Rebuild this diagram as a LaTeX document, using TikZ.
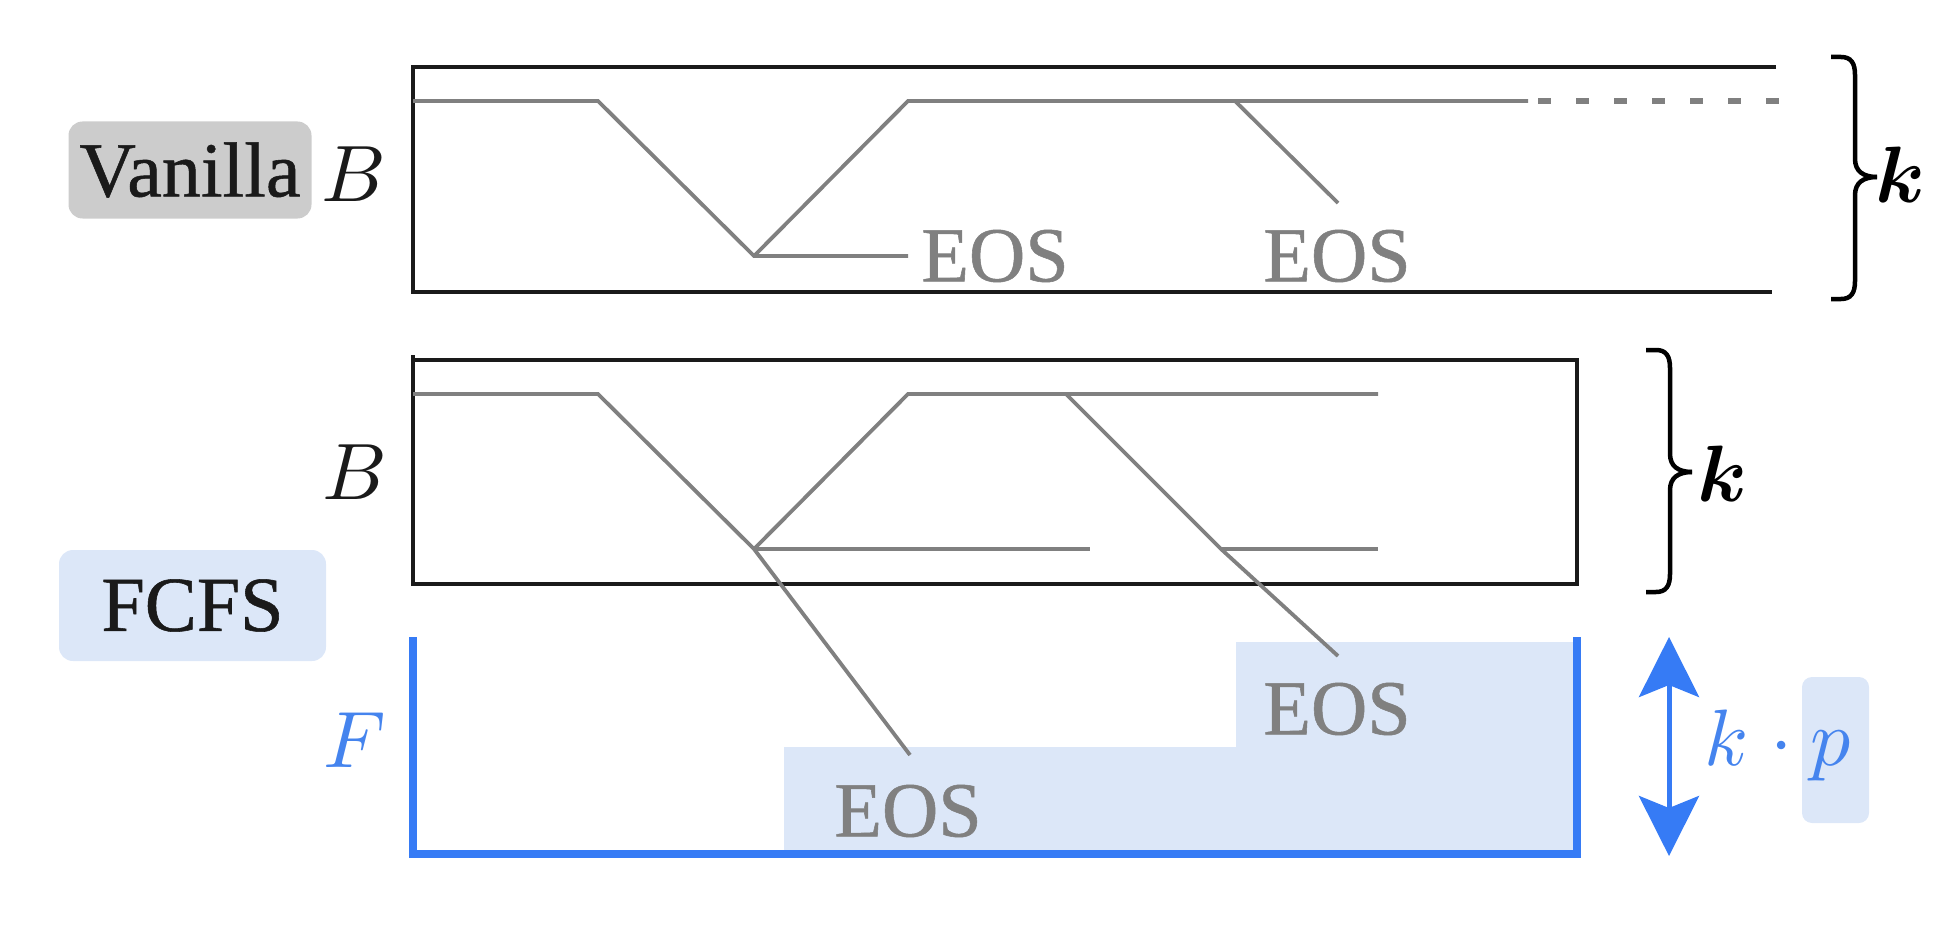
\RequirePackage{fix-cm}
\documentclass[tikz,border=0pt]{standalone}
\usepackage{fontspec}
\setmainfont{Liberation Serif}[RawFeature={embolden=0.7}]
\usetikzlibrary{arrows.meta}
\DeclareFontShape{OML}{cmm}{m}{it}{<->cmmi10}{}
\DeclareFontShape{OML}{cmm}{b}{it}{<->cmmib10}{}
\DeclareFontShape{OMS}{cmsy}{m}{n}{<->cmsy10}{}
\definecolor{lgray}{HTML}{808080}
\definecolor{dblack}{HTML}{1A1A1A}
\definecolor{mblue}{HTML}{367BF5}
\definecolor{tblue}{HTML}{4584EE}
\definecolor{fblue}{HTML}{DCE7F8}
\definecolor{vgray}{HTML}{CCCCCC}
\newcommand\KBrace[4]{% x of ends, y top, y tip, y bottom
  \draw[kbr] (#1,#2) -- (#1+10,#2) .. controls (#1+20,#2) and (#1+24,#2+6) .. (#1+24,#2+18)
    -- (#1+24,#3-18) .. controls (#1+24,#3-6) and (#1+32,#3) .. (#1+46,#3);
  \draw[kbr] (#1+46,#3) .. controls (#1+32,#3) and (#1+24,#3+6) .. (#1+24,#3+18)
    -- (#1+24,#4-18) .. controls (#1+24,#4-6) and (#1+20,#4) .. (#1+10,#4) -- (#1,#4);}
\begin{document}
\begin{tikzpicture}[x=1pt,y=-1pt,
  big/.style={font=\fontsize{78}{90}\selectfont, inner sep=0pt},
  mathlbl/.style={font=\fontsize{80}{96}\selectfont, inner sep=0pt, anchor=base},
  boldlbl/.style={font=\fontsize{80}{96}\selectfont\boldmath, inner sep=0pt, anchor=base},
  eos/.style={big, text=lgray},
  frame/.style={draw=dblack, line width=4.5pt},
  trace/.style={draw=lgray, line width=3.8pt},
  tag/.style={big, rounded corners=14pt, text=dblack},
  kbr/.style={draw=black, line width=4.5pt},
  blueu/.style={draw=mblue, line width=8.5pt},
  dbl/.style={draw=mblue, line width=5pt,
    {Stealth[length=60pt,width=60pt,inset=12pt]}-{Stealth[length=60pt,width=60pt,inset=12pt]}}
]
\useasboundingbox (0,0) rectangle (1956,936);

% ---------- labels ----------
\node[tag, fill=vgray, minimum width=243pt, minimum height=97pt] (vanilla) at (190,170) {Vanilla};
\node[tag, fill=fblue, minimum width=267pt, minimum height=111pt] (fcfs) at (192.5,605.5) {FCFS};
\node[mathlbl, text=dblack] (B1) at (354,201) {$B$};
\node[mathlbl, text=dblack] (B2) at (355,499) {$B$};
\node[mathlbl, text=tblue] (F) at (355,767) {$F$};

% ---------- top frame ----------
\coordinate (f1a) at (1776,67);
\coordinate (f1b) at (413,67);
\coordinate (f1c) at (413,292);
\coordinate (f1d) at (1772,292);
\draw[frame] (f1a) -- (f1b) -- (f1c) -- (f1d);

% top traces
\coordinate (t0) at (413,101);
\coordinate (t1) at (598,101);
\coordinate (tj) at (754,256);
\coordinate (te1) at (908,256);
\coordinate (t2) at (908,101);
\coordinate (t3) at (1235,101);
\coordinate (te2) at (1338,203);
\coordinate (t4) at (1528,101);
\coordinate (t5) at (1538,101);
\coordinate (t6) at (1781,101);
\draw[trace] (t0) -- (t1) -- (tj) -- (te1);
\draw[trace] (tj) -- (t2) -- (t4);
\draw[trace] (t3) -- (te2);
\draw[trace, line width=5.5pt, dash pattern=on 13pt off 25pt] (t5) -- (t6);
\node[eos] (eos1) at (995,256) {EOS};
\node[eos] (eos2) at (1337,256) {EOS};

% top brace
\KBrace{1831}{57}{177}{299}
\node[boldlbl, text=black] (k1) at (1900,203) {$k$};

% ---------- middle frame ----------
\coordinate (f2a) at (413,355);
\coordinate (f2b) at (413,584);
\coordinate (f2c) at (1577,584);
\coordinate (f2d) at (1577,360);
\coordinate (f2e) at (413,360);
\draw[frame] (f2a) -- (f2b) -- (f2c) -- (f2d) -- (f2e);

% ---------- bottom fill ----------
\coordinate (p1) at (784,747);
\coordinate (p2) at (1236,747);
\coordinate (p3) at (1236,642);
\coordinate (p4) at (1577,642);
\coordinate (p5) at (1577,854);
\coordinate (p6) at (784,854);
\fill[fblue] (p1) -- (p2) -- (p3) -- (p4) -- (p5) -- (p6) -- cycle;

% middle traces
\coordinate (m0) at (413,394);
\coordinate (m1) at (598,394);
\coordinate (mj) at (754,549);
\coordinate (me1) at (910,755);
\coordinate (mh1) at (1090,549);
\coordinate (m2) at (908,394);
\coordinate (m3) at (1066,394);
\coordinate (m4) at (1378,394);
\coordinate (mj2) at (1221,549);
\coordinate (me2) at (1338,656);
\coordinate (mh2) at (1378,549);
\draw[trace] (m0) -- (m1) -- (mj) -- (me1);
\draw[trace] (mj) -- (mh1);
\draw[trace] (mj) -- (m2) -- (m4);
\draw[trace] (m3) -- (mj2) -- (me2);
\draw[trace] (mj2) -- (mh2);
\node[eos] (eos3) at (1337,709) {EOS};
\node[eos] (eos4) at (908,811) {EOS};

% middle brace
\KBrace{1646}{350}{472}{592}
\node[boldlbl, text=black] (k2) at (1722,501) {$k$};

% ---------- blue U ----------
\coordinate (u1) at (413,637);
\coordinate (u2) at (413,854);
\coordinate (u3) at (1577,854);
\coordinate (u4) at (1577,637);
\draw[blueu] (u1) -- (u2) -- (u3) -- (u4);

% double arrow
\coordinate (a1) at (1669,637);
\coordinate (a2) at (1669,856);
\draw[dbl] (a1) -- (a2);

% k . p
\node[fill=fblue, rounded corners=10pt, minimum width=67pt, minimum height=146pt, inner sep=0pt] (pbox) at (1835.5,750) {};
\node[mathlbl, text=tblue] (kk) at (1727,765) {$k$};
\node[mathlbl, text=tblue] (cdot) at (1782,765) {$\cdot$};
\node[mathlbl, text=tblue] (pp) at (1831,765) {$p$};
\end{tikzpicture}
\end{document}
